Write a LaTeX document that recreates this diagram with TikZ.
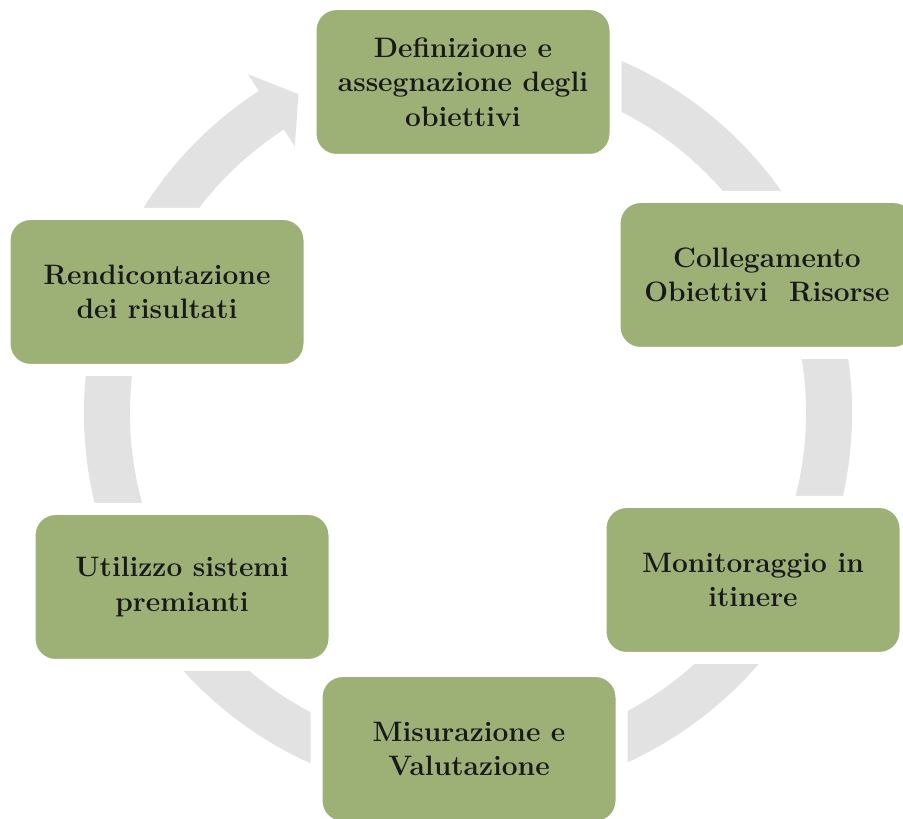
\documentclass[tikz,border=0pt]{standalone}
\usepackage{fontspec}
\definecolor{boxgreen}{RGB}{157,177,119}
\definecolor{ringgrey}{RGB}{226,226,226}

\begin{document}
\begin{tikzpicture}[
		fase/.style={rectangle, rounded corners=0.65cm, fill=boxgreen, draw=white, line width=0.3cm,
			minimum width=7.625cm, minimum height=3.9cm, align=center,
			font=\fontsize{20}{24.5}\selectfont\bfseries, text=black!90}]
				\useasboundingbox (0,0) rectangle (22.575,20.475);
				\clip (0,0) rectangle (22.575,20.475);
				\fill[ringgrey, shift={(11.7,10.15)}] (75:9.6) arc[start angle=75, end angle=-237, radius=9.6]
					-- (123:10.1) -- (118:9.025) -- (123:7.95) -- (123:8.45)
					arc[start angle=123, end angle=435, radius=8.45] -- cycle;
				\node[fase] (defin) at (11.575,18.425) {Definizione e\\assegnazione degli\\obiettivi};
				\node[fase] (colleg) at (19.175,13.6) {Collegamento\\Obiettivi\ \ Risorse};
				\node[fase] (monit) at (18.825,5.975) {Monitoraggio in\\itinere};
				\node[fase] (misur) at (11.725,1.75) {Misurazione e\\Valutazione};
				\node[fase] (utiliz) at (4.55,5.8) {Utilizzo sistemi\\premianti};
				\node[fase] (rendic) at (3.925,13.175) {Rendicontazione\\dei risultati};
			\end{tikzpicture}
\end{document}
